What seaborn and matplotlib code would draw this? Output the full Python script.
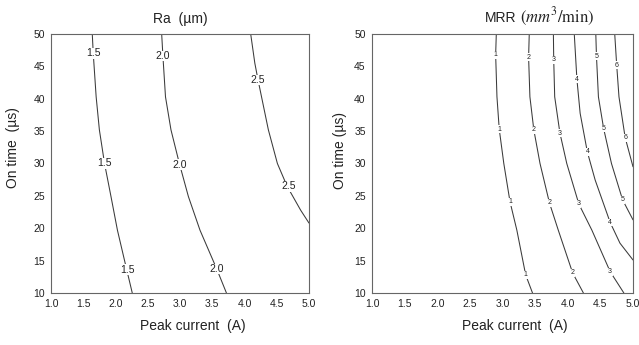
import matplotlib
matplotlib.use("Agg")
import matplotlib.pyplot as plt
import seaborn as sns

sns.set_theme(style="white")
plt.rcParams['font.family'] = ['Liberation Sans', 'DejaVu Sans']

# ---- Ra contour lines (Peak current x, On time y) ----
ra_levels = ["1.5", "2.0", "2.5"]
ra_x = [
    [1.64, 1.655, 1.70, 1.75, 1.83, 1.93, 2.03, 2.15, 2.26],
    [2.716, 2.735, 2.775, 2.86, 2.99, 3.13, 3.31, 3.57, 3.72],
    [4.096, 4.16, 4.21, 4.37, 4.51, 4.66, 4.87, 5.0],
]
ra_y = [
    [50, 47, 40.3, 35.2, 30, 24.9, 19.7, 14.6, 10],
    [50, 46.6, 40.3, 35.2, 30, 24.9, 19.7, 13.7, 10],
    [50, 45.5, 42.9, 35.2, 30, 26.5, 22.8, 20.8],
]
ra_label_x = [[1.655, 1.83, 2.19], [2.735, 2.99, 3.57], [4.21, 4.68]]
ra_label_y = [[47.0, 30.0, 13.6], [46.6, 29.8, 13.7], [42.9, 26.5]]

# ---- MRR contour lines ----
mrr_levels = ["1", "2", "3", "4", "5", "6"]
mrr_x = [
    [2.905, 2.895, 2.915, 2.95, 3.02, 3.115, 3.22, 3.355, 3.46],
    [3.41, 3.40, 3.42, 3.48, 3.575, 3.72, 3.855, 4.075, 4.24],
    [3.78, 3.785, 3.80, 3.88, 3.985, 4.17, 4.37, 4.65, 4.86],
    [4.10, 4.14, 4.19, 4.30, 4.42, 4.65, 4.80, 5.0],
    [4.43, 4.44, 4.47, 4.55, 4.67, 4.84, 5.0],
    [4.72, 4.75, 4.785, 4.88, 5.0],
]
mrr_y = [
    [50, 46.8, 40.3, 35.3, 30, 24.1, 19.7, 12.8, 10],
    [50, 46.4, 40.3, 35.2, 30, 23.9, 19.7, 13.1, 10],
    [50, 46.0, 40.3, 34.7, 30, 23.75, 19.7, 13.3, 10],
    [50, 43.05, 37.75, 31.8, 27.45, 20.9, 17.7, 15.1],
    [50, 46.6, 40.3, 35.4, 30, 24.4, 21.3],
    [50, 45.2, 40.3, 34.0, 29.5],
]
mrr_label_x = [[2.895, 2.95, 3.115, 3.355], [3.40, 3.48, 3.72, 4.075], [3.785, 3.88, 4.17, 4.65],
               [4.14, 4.30, 4.65], [4.44, 4.55, 4.84], [4.75, 4.88]]
mrr_label_y = [[46.8, 35.3, 24.1, 12.8], [46.4, 35.2, 23.9, 13.1], [46.0, 34.7, 23.75, 13.3],
               [43.05, 31.8, 20.9], [46.6, 35.4, 24.4], [45.2, 34.0]]

W, H = 639, 345
fig = plt.figure(figsize=(W / 100, H / 100), dpi=100)
ax1 = fig.add_axes([51 / W, 1 - 293 / H, (309 - 51) / W, (293 - 34) / H])
ax2 = fig.add_axes([372 / W, 1 - 293 / H, (633 - 372) / W, (293 - 34) / H])

line_color = "#3a3a3a"

def draw(ax, levels, xs, ys, lxs, lys, fs):
    for lev, x, y, lx, ly in zip(levels, xs, ys, lxs, lys):
        sns.lineplot(x=x, y=y, sort=False, estimator=None, color=line_color,
                     lw=0.75, ax=ax, legend=False)
        for px, py in zip(lx, ly):
            ax.text(px, py, lev, fontsize=fs, ha="center", va="center", color="#222222",
                    bbox=dict(facecolor="white", edgecolor="none", pad=0.3), zorder=5)

draw(ax1, ra_levels, ra_x, ra_y, ra_label_x, ra_label_y, 7.5)
draw(ax2, mrr_levels, mrr_x, mrr_y, mrr_label_x, mrr_label_y, 5)

xticks = [1.0, 1.5, 2.0, 2.5, 3.0, 3.5, 4.0, 4.5, 5.0]
yticks = [10, 15, 20, 25, 30, 35, 40, 45, 50]
for ax in (ax1, ax2):
    ax.set_xlim(1, 5)
    ax.set_ylim(10, 50)
    ax.set_xticks(xticks)
    ax.set_xticklabels([f"{t:.1f}" for t in xticks])
    ax.set_yticks(yticks)
    ax.tick_params(axis="both", labelsize=7.5, direction="inout", length=3, width=0.6,
                   color="#444444", pad=3, labelcolor="#222222")
    for s in ax.spines.values():
        s.set_color("#666666")
        s.set_linewidth(0.8)
    ax.set_xlabel("Peak current  (A)", fontsize=10, color="#222222")
    ax.xaxis.set_label_coords(0.548, -0.10)

ax1.set_ylabel("On time  (\u00b5s)", fontsize=10, color="#222222")
ax1.yaxis.set_label_coords(-0.12, 0.56)
ax2.set_ylabel("On time (\u00b5s)", fontsize=10, color="#222222")
ax2.yaxis.set_label_coords(-0.096, 0.55)
ax1.set_title("Ra  (\u00b5m)", fontsize=10, color="#222222", pad=8)
ax2.text(0.555, 1.046, "MRR", transform=ax2.transAxes, ha="right", va="baseline",
         fontsize=10, color="#222222")
ax2.text(0.568, 1.046, r"$(mm^3/\mathrm{min})$", transform=ax2.transAxes, ha="left",
         va="baseline", fontsize=12, color="#222222", math_fontfamily="stix")

fig.savefig("out.png", dpi=100)
